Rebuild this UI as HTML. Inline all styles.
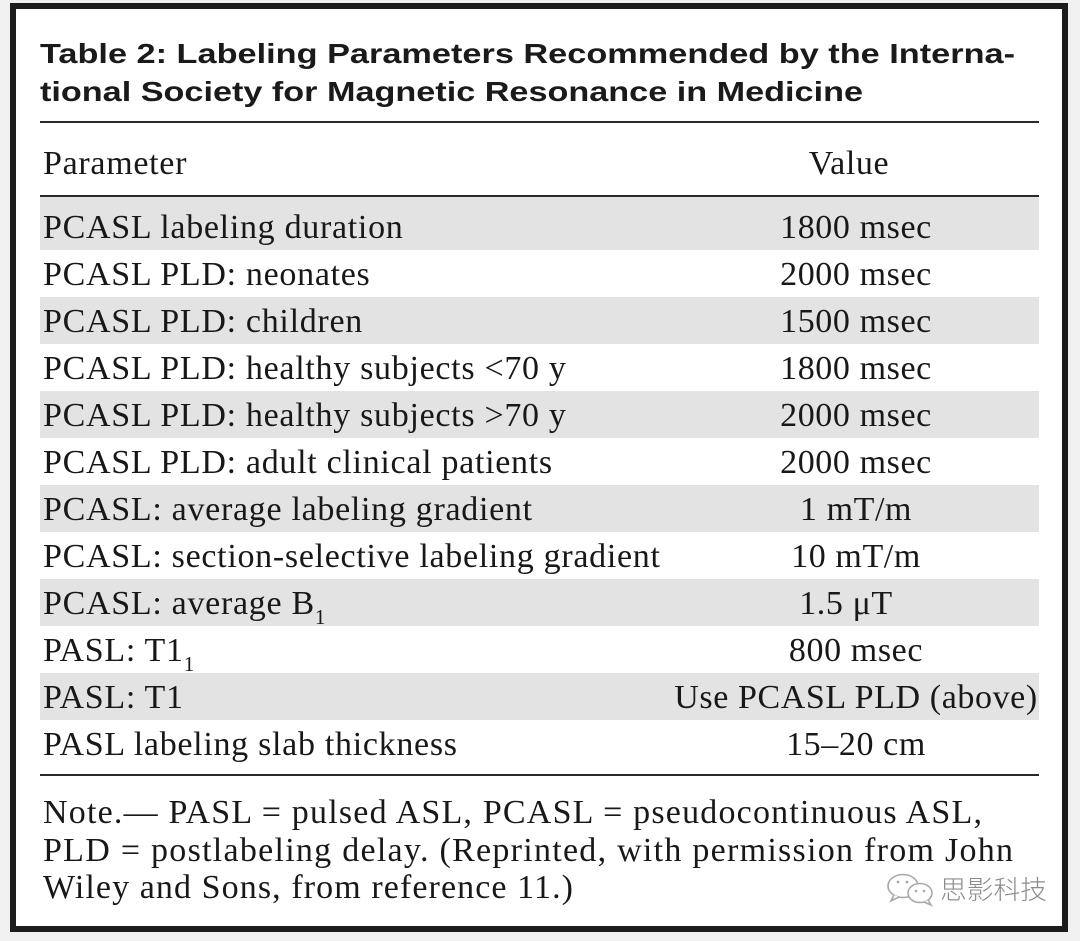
<!DOCTYPE html>
<html>
<head>
<meta charset="utf-8">
<style>
  html,body{margin:0;padding:0;background:#f0f0f0;}
  svg{display:block;}
  .b{font-family:"Liberation Serif","Noto Serif CJK SC",serif;font-size:34px;fill:#181818;letter-spacing:0.7px;}
  .v{font-family:"Liberation Serif","Noto Serif CJK SC",serif;font-size:34px;fill:#181818;letter-spacing:0.6px;text-anchor:middle;}
  .t{font-family:"Liberation Sans",sans-serif;font-size:28px;font-weight:bold;fill:#1a1a1a;}
</style>
</head>
<body>
<svg width="1080" height="941" viewBox="0 0 1080 941" xmlns="http://www.w3.org/2000/svg">
  <rect x="0" y="0" width="1080" height="941" fill="#f0f0f0"/>
  <rect x="13" y="6" width="1052" height="923" fill="#ffffff" stroke="#1c1c1c" stroke-width="6"/>

  <!-- Title -->
  <text class="t" x="40" y="63" textLength="975" lengthAdjust="spacingAndGlyphs">Table 2: Labeling Parameters Recommended by the Interna-</text>
  <text class="t" x="40" y="101" textLength="823" lengthAdjust="spacingAndGlyphs">tional Society for Magnetic Resonance in Medicine</text>

  <rect x="40" y="121" width="999" height="2" fill="#2a2a2a"/>

  <!-- Header -->
  <text class="b" x="43" y="174">Parameter</text>
  <text class="v" x="849" y="174">Value</text>
  <rect x="40" y="195" width="999" height="2" fill="#2a2a2a"/>

  <!-- shaded rows -->
  <rect x="40" y="197" width="999" height="53" fill="#e3e3e3"/>
  <rect x="40" y="297" width="999" height="47" fill="#e3e3e3"/>
  <rect x="40" y="391" width="999" height="47" fill="#e3e3e3"/>
  <rect x="40" y="485" width="999" height="47" fill="#e3e3e3"/>
  <rect x="40" y="579" width="999" height="47" fill="#e3e3e3"/>
  <rect x="40" y="673" width="999" height="47" fill="#e3e3e3"/>

  <!-- rows -->
  <text class="b" x="43" y="238">PCASL labeling duration</text>
  <text class="v" x="856" y="238">1800 msec</text>

  <text class="b" x="43" y="285">PCASL PLD: neonates</text>
  <text class="v" x="856" y="285">2000 msec</text>

  <text class="b" x="43" y="332">PCASL PLD: children</text>
  <text class="v" x="856" y="332">1500 msec</text>

  <text class="b" x="43" y="379">PCASL PLD: healthy subjects &lt;70 y</text>
  <text class="v" x="856" y="379">1800 msec</text>

  <text class="b" x="43" y="426">PCASL PLD: healthy subjects &gt;70 y</text>
  <text class="v" x="856" y="426">2000 msec</text>

  <text class="b" x="43" y="473">PCASL PLD: adult clinical patients</text>
  <text class="v" x="856" y="473">2000 msec</text>

  <text class="b" x="43" y="520">PCASL: average labeling gradient</text>
  <text class="v" x="856" y="520">1 mT/m</text>

  <text class="b" x="43" y="567">PCASL: section-selective labeling gradient</text>
  <text class="v" x="856" y="567">10 mT/m</text>

  <text class="b" x="43" y="614">PCASL: average B<tspan dy="10" font-size="21">1</tspan></text>
  <text class="v" x="846" y="614">1.5 μT</text>

  <text class="b" x="43" y="661">PASL: T1<tspan dy="10" font-size="21">1</tspan></text>
  <text class="v" x="856" y="661">800 msec</text>

  <text class="b" x="43" y="708">PASL: T1</text>
  <text class="v" x="856" y="708">Use PCASL PLD (above)</text>

  <text class="b" x="43" y="755">PASL labeling slab thickness</text>
  <text class="v" x="856" y="755">15–20 cm</text>

  <rect x="40" y="774" width="999" height="2" fill="#2a2a2a"/>

  <!-- Note -->
  <text class="b" x="43" y="823" textLength="939" lengthAdjust="spacing" style="letter-spacing:0">Note.— PASL = pulsed ASL, PCASL = pseudocontinuous ASL,</text>
  <text class="b" x="43" y="861" textLength="970" lengthAdjust="spacing" style="letter-spacing:0">PLD = postlabeling delay. (Reprinted, with permission from John</text>
  <text class="b" x="43" y="898" textLength="530" lengthAdjust="spacing" style="letter-spacing:0">Wiley and Sons, from reference 11.)</text>

  <!-- Watermark -->
  <g fill="#ffffff" stroke="#a8a8a8" stroke-width="1.6">
    <ellipse cx="903" cy="886" rx="15" ry="11.5"/>
    <path d="M894 895 l-3 6 l8 -4" />
    <ellipse cx="920" cy="893" rx="12" ry="9.5"/>
    <path d="M928 900 l3 5 l-7 -3" />
  </g>
  <g fill="#a8a8a8">
    <circle cx="898" cy="882" r="1.4"/>
    <circle cx="907" cy="882" r="1.4"/>
    <circle cx="916" cy="891" r="1.3"/>
    <circle cx="924" cy="891" r="1.3"/>
  </g>
  <text x="940" y="899" textLength="107" lengthAdjust="spacingAndGlyphs" style="font-family:'Liberation Sans','Noto Sans CJK SC',sans-serif;font-size:26px;fill:#8c8c8c;font-weight:300;">思影科技</text>
</svg>
</body>
</html>
